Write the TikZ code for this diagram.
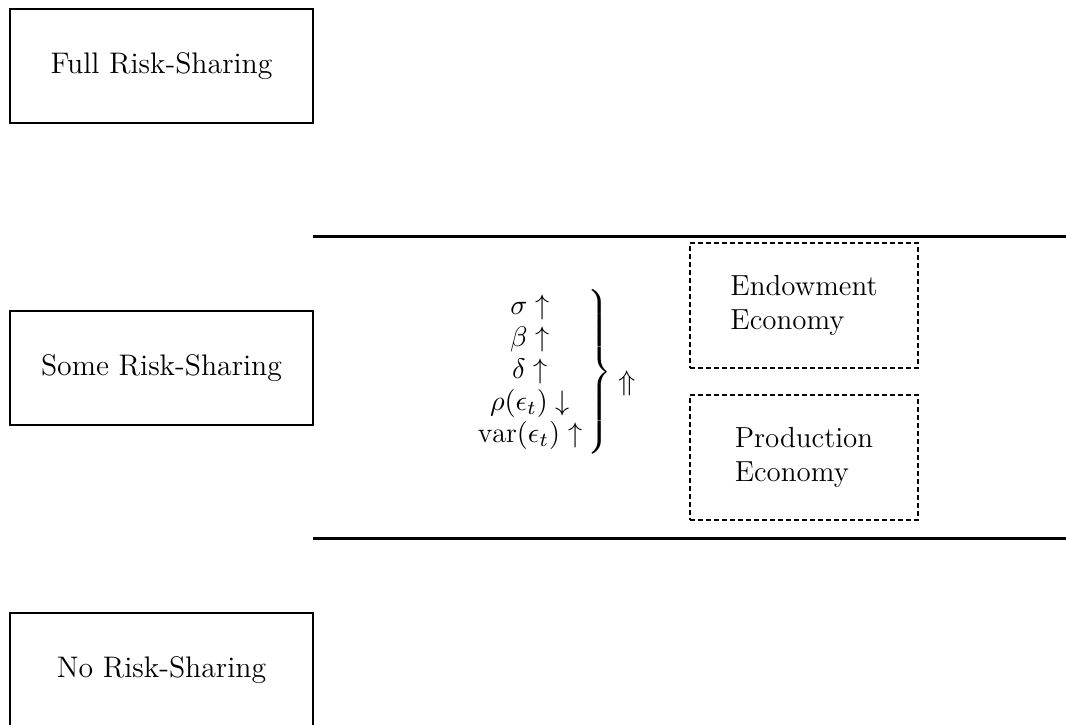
\RequirePackage{fix-cm}
\documentclass[tikz,border=0pt]{standalone}
\usepackage{fontspec}
\usepackage{amsmath}
\begin{document}
\begin{tikzpicture}[x=0.4pt,y=-0.4pt,
  every node/.style={font=\fontsize{11.3}{13.6}\selectfont},
  lbox/.style={draw, line width=0.8pt, minimum width=121.2pt, minimum height=45.6pt, inner sep=0pt, font=\fontsize{11.9}{14}\selectfont},
  ebox/.style={draw, line width=0.8pt, dash pattern=on 2pt off 1.2pt, minimum width=91.2pt, minimum height=50pt, inner sep=0pt, align=left, font=\fontsize{11.6}{13.8}\selectfont},
  band/.style={line width=1.2pt}]
\useasboundingbox (0,0) rectangle (1066,725);
\clip (0,0) rectangle (1066,725);
\node[lbox] (full) at (161.5,66) {Full Risk-Sharing};
\node[lbox] (some) at (161.5,368) {Some Risk-Sharing};
\node[lbox] (none) at (161.5,670) {No Risk-Sharing};
\coordinate (t1) at (313,237);
\coordinate (t2) at (1066,237);
\coordinate (b1) at (313,538);
\coordinate (b2) at (1066,538);
\draw[band] (t1) -- (t2);
\draw[band] (b1) -- (b2);
\node[anchor=east, inner sep=0pt] (params) at (612,373) {$\renewcommand{\arraystretch}{0.94}\left.\begin{array}{c@{\hspace{2pt}}}\sigma\uparrow\\ \beta\uparrow\\ \delta\uparrow\\ \rho(\epsilon_t)\downarrow\\ \mathrm{var}(\epsilon_t)\uparrow\end{array}\rule[-31pt]{0pt}{62pt}\right\}$};
\node[inner sep=0pt] (up) at (627,383) {$\Uparrow$};
\node[ebox] (endow) at (804,305.5) {Endowment\\Economy};
\node[ebox] (prod) at (804,457.5) {Production\\Economy};
\end{tikzpicture}
\end{document}
